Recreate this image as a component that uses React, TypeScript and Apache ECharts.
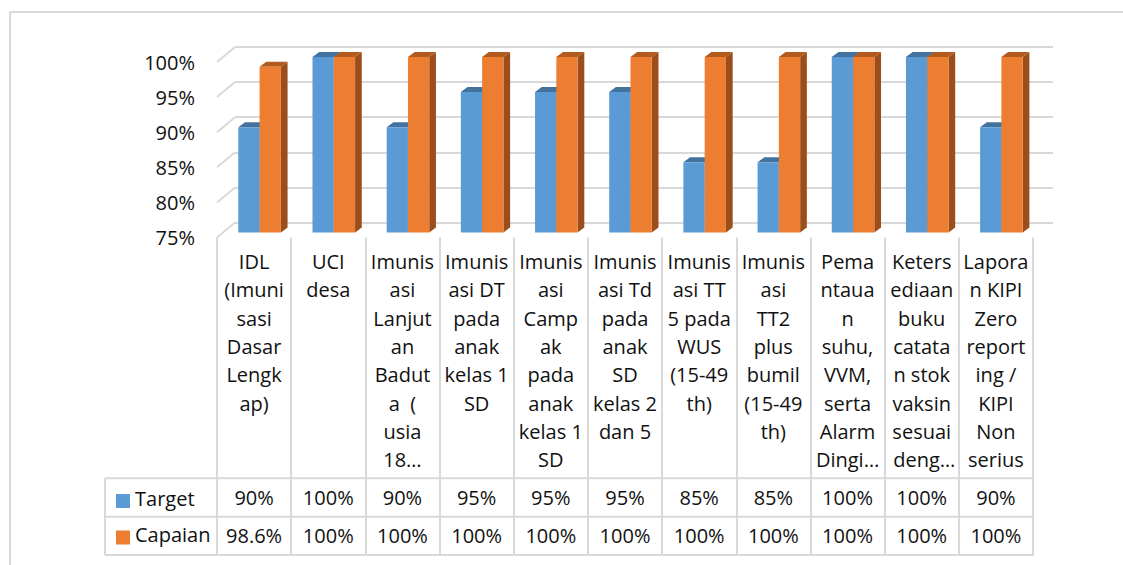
import React, { useEffect, useRef } from "react";
import * as echarts from "echarts";

const categories = [
  "IDL\n(Imuni\nsasi\nDasar\nLengk\nap)",
  "UCI\ndesa",
  "Imunis\nasi\nLanjut\nan\nBadut\na  (\nusia\n18…",
  "Imunis\nasi DT\npada\nanak\nkelas 1\nSD",
  "Imunis\nasi\nCamp\nak\npada\nanak\nkelas 1\nSD",
  "Imunis\nasi Td\npada\nanak\nSD\nkelas 2\ndan 5",
  "Imunis\nasi TT\n5 pada\nWUS\n(15-49\nth)",
  "Imunis\nasi\nTT2\nplus\nbumil\n(15-49\nth)",
  "Pema\nntaua\nn\nsuhu,\nVVM,\nserta\nAlarm\nDingi…",
  "Keters\nediaan\nbuku\ncatata\nn stok\nvaksin\nsesuai\n deng…",
  "Lapora\nn KIPI\nZero\nreport\ning /\nKIPI\nNon\nserius",
];
const seriesNames = ["Target", "Capaian"];
const target = [90, 100, 90, 95, 95, 95, 85, 85, 100, 100, 90];
const capaian = [98.6, 100, 100, 100, 100, 100, 100, 100, 100, 100, 100];
const yTicks = [75, 80, 85, 90, 95, 100];

const FRONT = ["#5b9bd5", "#ed7d31"];
const TOP = ["#44729f", "#b35a1f"];
const SIDE = ["#3f6a94", "#9b4e1c"];
const GRID_C = "#d9d9d9";
const FONT = "'Open Sans', sans-serif";
const TXT = "#111";

const DX = 6.7;
const DY = 5;
const BAR_FRAC = 0.287;
const WALL_DX = 18;
const WALL_DY = 15;

const pct = (v: number) => `${v}%`;

export default function App() {
  const ref = useRef<HTMLDivElement>(null);
  useEffect(() => {
    if (!ref.current) return;
    const chart = echarts.init(ref.current, null, { renderer: "svg" });

    const makeBar = (k: number) => (params: any, api: any) => {
      const cat = api.value(0);
      const val = api.value(1);
      const topP = api.coord([cat, val]);
      const baseP = api.coord([cat, yTicks[0]]);
      const band = api.size([1, 0])[0];
      const w = band * BAR_FRAC;
      const x0 = k === 0 ? topP[0] - w : topP[0];
      const x1 = x0 + w;
      const yt = topP[1];
      const yb = baseP[1];
      return {
        type: "group",
        children: [
          {
            type: "polygon",
            shape: { points: [[x1, yb], [x1 + DX, yb - DY], [x1 + DX, yt - DY], [x1, yt]] },
            style: { fill: SIDE[k] },
          },
          {
            type: "polygon",
            shape: { points: [[x0, yt], [x1, yt], [x1 + DX, yt - DY], [x0 + DX, yt - DY]] },
            style: { fill: TOP[k] },
          },
          {
            type: "rect",
            shape: { x: x0, y: yt, width: w, height: yb - yt },
            style: { fill: FRONT[k] },
          },
        ],
      };
    };

    const tableLines = [478.3, 516.7, 555].map((y) => ({
      type: "line",
      shape: { x1: 105, y1: y, x2: 1033.5, y2: y },
      style: { stroke: GRID_C, lineWidth: 2 },
    }));

    const option: any = {
      animation: false,
      color: FRONT,
      textStyle: { fontFamily: FONT },
      grid: [
        { left: 217, top: 62, width: 816, height: 175.5 },
        { left: 235, top: 47, width: 818, height: 175.5 },
        { left: 222.5, top: 57, width: 816, height: 175.5 },
      ],
      xAxis: [
        {
          type: "category",
          gridIndex: 0,
          data: categories,
          axisLine: { show: false },
          axisTick: { show: true, length: 318, lineStyle: { color: GRID_C, width: 2 } },
          axisLabel: {
            interval: 0,
            margin: 10,
            fontSize: 20,
            lineHeight: 28.3,
            color: TXT,
            fontFamily: FONT,
          },
        },
        {
          type: "category",
          gridIndex: 0,
          position: "bottom",
          offset: 241,
          data: target.map(pct),
          axisLine: { show: false },
          axisTick: { show: false },
          axisLabel: { interval: 0, margin: 5, fontSize: 20, lineHeight: 28, color: TXT, fontFamily: FONT },
        },
        {
          type: "category",
          gridIndex: 0,
          position: "bottom",
          offset: 279.3,
          data: capaian.map(pct),
          axisLine: { show: false },
          axisTick: { show: false },
          axisLabel: { interval: 0, margin: 5, fontSize: 20, lineHeight: 28, color: TXT, fontFamily: FONT },
        },
        { type: "value", gridIndex: 1, min: 0, max: 1, show: false },
        { type: "category", gridIndex: 2, data: categories, show: false },
      ],
      yAxis: [
        {
          type: "value",
          gridIndex: 0,
          min: yTicks[0],
          max: yTicks[yTicks.length - 1],
          interval: 5,
          axisLine: { show: false },
          axisTick: { show: false },
          splitLine: { show: false },
          axisLabel: { margin: 22, fontSize: 20, color: TXT, fontFamily: FONT, formatter: (v: number) => pct(v) },
        },
        {
          type: "value",
          gridIndex: 1,
          min: yTicks[0],
          max: yTicks[yTicks.length - 1],
          interval: 5,
          axisLine: { show: false },
          axisTick: { show: false },
          axisLabel: { show: false },
          splitLine: { show: true, lineStyle: { color: GRID_C, width: 2 } },
        },
        {
          type: "value",
          gridIndex: 2,
          min: yTicks[0],
          max: yTicks[yTicks.length - 1],
          show: false,
        },
      ],
      legend: {
        orient: "vertical",
        left: 111,
        top: 483,
        itemWidth: 14,
        itemHeight: 14,
        itemGap: 10.5,
        icon: "rect",
        data: seriesNames,
        formatter: "{t|{name}}",
        textStyle: {
          color: TXT,
          fontFamily: FONT,
          rich: {
            t: { fontSize: 20, lineHeight: 22, padding: [0, 0, 6, 0], color: TXT, fontFamily: FONT },
          },
        },
        selectedMode: false,
      },
      graphic: [
        { type: "line", shape: { x1: 10, y1: 12, x2: 1123, y2: 12 }, style: { stroke: GRID_C, lineWidth: 2 } },
        { type: "line", shape: { x1: 10, y1: 12, x2: 10, y2: 565 }, style: { stroke: GRID_C, lineWidth: 2 } },
        { type: "line", shape: { x1: 105, y1: 478.3, x2: 105, y2: 555 }, style: { stroke: GRID_C, lineWidth: 2 } },
        ...tableLines,
      ],
      series: [
        {
          type: "custom",
          name: "wall",
          xAxisIndex: 3,
          yAxisIndex: 1,
          silent: true,
          data: yTicks.map((v) => [0, v]),
          renderItem: (params: any, api: any) => {
            const p = api.coord([0, api.value(1)]);
            return {
              type: "line",
              shape: { x1: p[0], y1: p[1], x2: p[0] - WALL_DX, y2: p[1] + WALL_DY },
              style: { stroke: GRID_C, lineWidth: 2 },
            };
          },
        },
        {
          type: "custom",
          name: seriesNames[0],
          xAxisIndex: 4,
          yAxisIndex: 2,
          itemStyle: { color: FRONT[0] },
          data: target.map((v, i) => [i, v]),
          renderItem: makeBar(0),
        },
        {
          type: "custom",
          name: seriesNames[1],
          xAxisIndex: 4,
          yAxisIndex: 2,
          itemStyle: { color: FRONT[1] },
          data: capaian.map((v, i) => [i, v]),
          renderItem: makeBar(1),
        },
      ],
    };
    chart.setOption(option);
    return () => chart.dispose();
  }, []);

  return (
    <div
      ref={ref}
      style={{ position: "absolute", left: 0, top: 0, width: 1123, height: 565, background: "#fff" }}
    />
  );
}
